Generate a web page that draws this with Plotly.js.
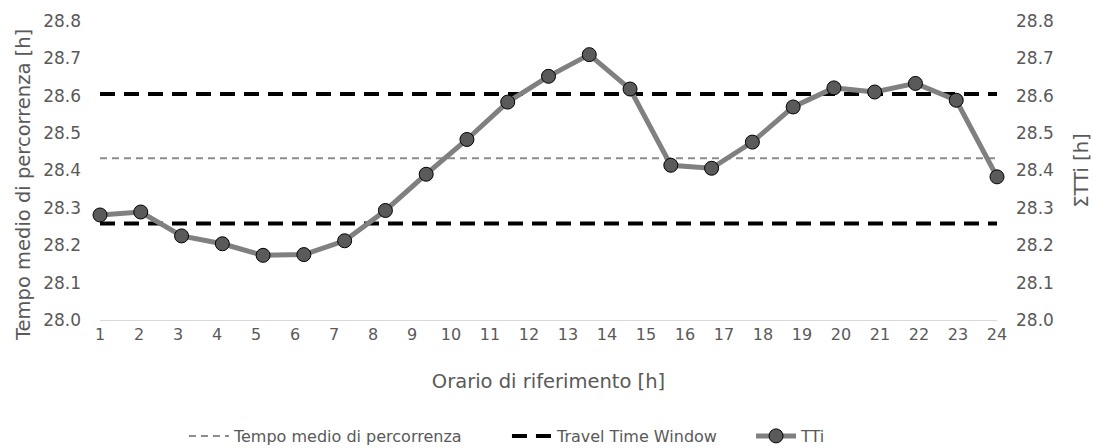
<!DOCTYPE html>
<html>
<head>
<meta charset="utf-8">
<script src="https://cdn.plot.ly/plotly-3.0.1.min.js"></script>
<style>html,body{margin:0;padding:0;background:#fff;}#chart{width:1093px;height:448px;}</style>
</head>
<body>
<div id="chart"></div>
<script>
// Categories (hours of reference)
const hours = [1,2,3,4,5,6,7,8,9,10,11,12,13,14,15,16,17,18,19,20,21,22,23,24];
// TTi series index (23 values spanning the same width)
const ttiIndex = [1,2,3,4,5,6,7,8,9,10,11,12,13,14,15,16,17,18,19,20,21,22,23];
const ttiValues = [28.281,28.289,28.225,28.204,28.173,28.175,28.212,28.293,28.390,28.483,28.583,28.652,28.710,28.618,28.414,28.406,28.476,28.570,28.621,28.610,28.633,28.588,28.383];
// Reference levels
const meanTime = 28.433;
const windowUpper = 28.605;
const windowLower = 28.258;

const textColor = '#595959';
const fontFam = '"DejaVu Sans", "Open Sans", sans-serif';

const first = hours[0], last = hours[hours.length-1];

const traces = [
  {
    name: 'Tempo medio di percorrenza', legend: 'legend',
    x: [first, last], y: [meanTime, meanTime],
    mode: 'lines', xaxis: 'x', yaxis: 'y',
    line: {color: '#8c8c8c', width: 2, dash: '7px,5px'},
    hoverinfo: 'skip'
  },
  {
    name: 'Travel Time Window', legend: 'legend2',
    x: [first, last, null, first, last],
    y: [windowUpper, windowUpper, null, windowLower, windowLower],
    mode: 'lines', xaxis: 'x', yaxis: 'y',
    line: {color: '#000000', width: 4, dash: '15px,9px'},
    connectgaps: false,
    hoverinfo: 'skip'
  },
  {
    name: 'TTi', legend: 'legend3',
    x: ttiIndex, y: ttiValues,
    mode: 'lines+markers', xaxis: 'x2', yaxis: 'y2',
    line: {color: '#808080', width: 5},
    marker: {size: 14, color: '#5a5a5a', line: {color: '#000000', width: 1}},
    cliponaxis: false
  }
];

const legendBase = {
  orientation: 'h', xanchor: 'left', y: -0.388, yanchor: 'middle',
  font: {family: fontFam, size: 16, color: textColor},
  itemwidth: 40, bgcolor: 'rgba(0,0,0,0)'
};

const layout = {
  width: 1093, height: 448,
  margin: {l: 100, r: 96, t: 21, b: 128, autoexpand: false},
  paper_bgcolor: '#ffffff', plot_bgcolor: '#ffffff',
  font: {family: fontFam, size: 16, color: textColor},
  showlegend: true,
  legend: Object.assign({}, legendBase, {x: 0.0936}),
  legend2: Object.assign({}, legendBase, {x: 0.4537}),
  legend3: Object.assign({}, legendBase, {x: 0.7258}),
  xaxis: {
    range: [first, last], tickvals: hours, ticktext: hours.map(String),
    showgrid: false, zeroline: false, showline: true, linecolor: '#d9d9d9', linewidth: 1,
    ticks: '', tickfont: {size: 16, color: textColor},
    title: {text: 'Orario di riferimento [h]', font: {size: 19.5, color: textColor}, standoff: 31},
    automargin: false, fixedrange: true
  },
  xaxis2: {
    overlaying: 'x', range: [ttiIndex[0], ttiIndex[ttiIndex.length-1]],
    visible: false, fixedrange: true
  },
  yaxis: {
    range: [28.0, 28.8], dtick: 0.1, tick0: 28.0, tickformat: '.1f',
    showgrid: false, zeroline: false, showline: false, ticks: '',
    ticklabelstandoff: 18, tickfont: {size: 17, color: textColor},
    automargin: false, fixedrange: true
  },
  yaxis2: {
    overlaying: 'y', side: 'right',
    range: [28.0, 28.8], dtick: 0.1, tick0: 28.0, tickformat: '.1f',
    showgrid: false, zeroline: false, showline: false, ticks: '',
    ticklabelstandoff: 18, tickfont: {size: 17, color: textColor},
    title: {text: 'ΣTTi [h]', font: {size: 19.5, color: textColor}, standoff: 24},
    automargin: false, fixedrange: true
  },
  annotations: [{
    text: 'Tempo medio di percorrenza [h]',
    xref: 'paper', yref: 'paper', x: -0.0858, y: 0.4515,
    xanchor: 'center', yanchor: 'middle', textangle: -90, showarrow: false,
    font: {family: fontFam, size: 19.5, color: textColor}
  }]
};

Plotly.newPlot('chart', traces, layout, {displayModeBar: false, staticPlot: true});
</script>
</body>
</html>
